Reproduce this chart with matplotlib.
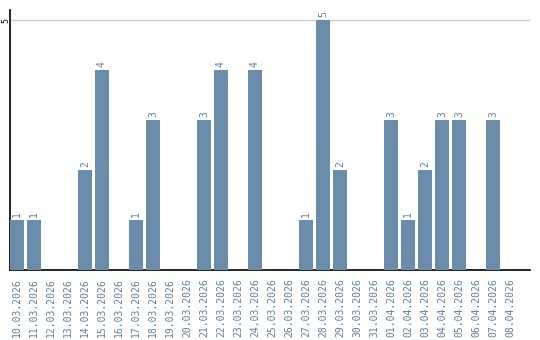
import matplotlib
matplotlib.use("Agg")
import matplotlib.pyplot as plt

dates = ["10.03.2026", "11.03.2026", "12.03.2026", "13.03.2026", "14.03.2026",
         "15.03.2026", "16.03.2026", "17.03.2026", "18.03.2026", "19.03.2026",
         "20.03.2026", "21.03.2026", "22.03.2026", "23.03.2026", "24.03.2026",
         "25.03.2026", "26.03.2026", "27.03.2026", "28.03.2026", "29.03.2026",
         "30.03.2026", "31.03.2026", "01.04.2026", "02.04.2026", "03.04.2026",
         "04.04.2026", "05.04.2026", "06.04.2026", "07.04.2026", "08.04.2026"]
values = [1, 1, 0, 0, 2, 4, 0, 1, 3, 0, 0, 3, 4, 0, 4, 0, 0, 1, 5, 2,
          0, 0, 3, 1, 2, 3, 3, 0, 3, 0]
yticks = [5]

bar_color = "#6a8cab"
label_color = "#5f80a0"
font = "DejaVu Sans Mono"

fig = plt.figure(figsize=(5.4, 3.4), dpi=100)
ax = fig.add_axes([10/540, 70/340, 520/540, 260/340])

x = list(range(len(dates)))
bars = ax.bar(x, values, width=14/17, color=bar_color, zorder=3)
for xi, v in zip(x, values):
    if v > 0:
        ax.annotate(str(v), (xi, v), xytext=(0, 2), textcoords="offset points",
                    rotation=90, ha="center", va="bottom", fontsize=7,
                    family=font, color=label_color)

ax.set_xlim(-0.41, 30.18)
ax.set_ylim(0, 5.2)
ax.set_xticks(x)
ax.set_xticklabels(dates, rotation=90, fontsize=7, family=font, color=label_color)
ax.set_yticks(yticks)
ax.set_yticklabels([str(t) for t in yticks], rotation=90, fontsize=6, family=font,
                   color="black", va="center")
ax.tick_params(axis="x", length=0, pad=6)
ax.tick_params(axis="y", length=0, pad=0)
ax.grid(axis="y", color="#cccccc", linewidth=1, zorder=0)
for s in ["top", "right"]:
    ax.spines[s].set_visible(False)
ax.spines["left"].set_color("black")
ax.spines["bottom"].set_color("black")
ax.spines["left"].set_linewidth(1.2)
ax.spines["bottom"].set_linewidth(1.2)

fig.savefig("out.png", dpi=100)
